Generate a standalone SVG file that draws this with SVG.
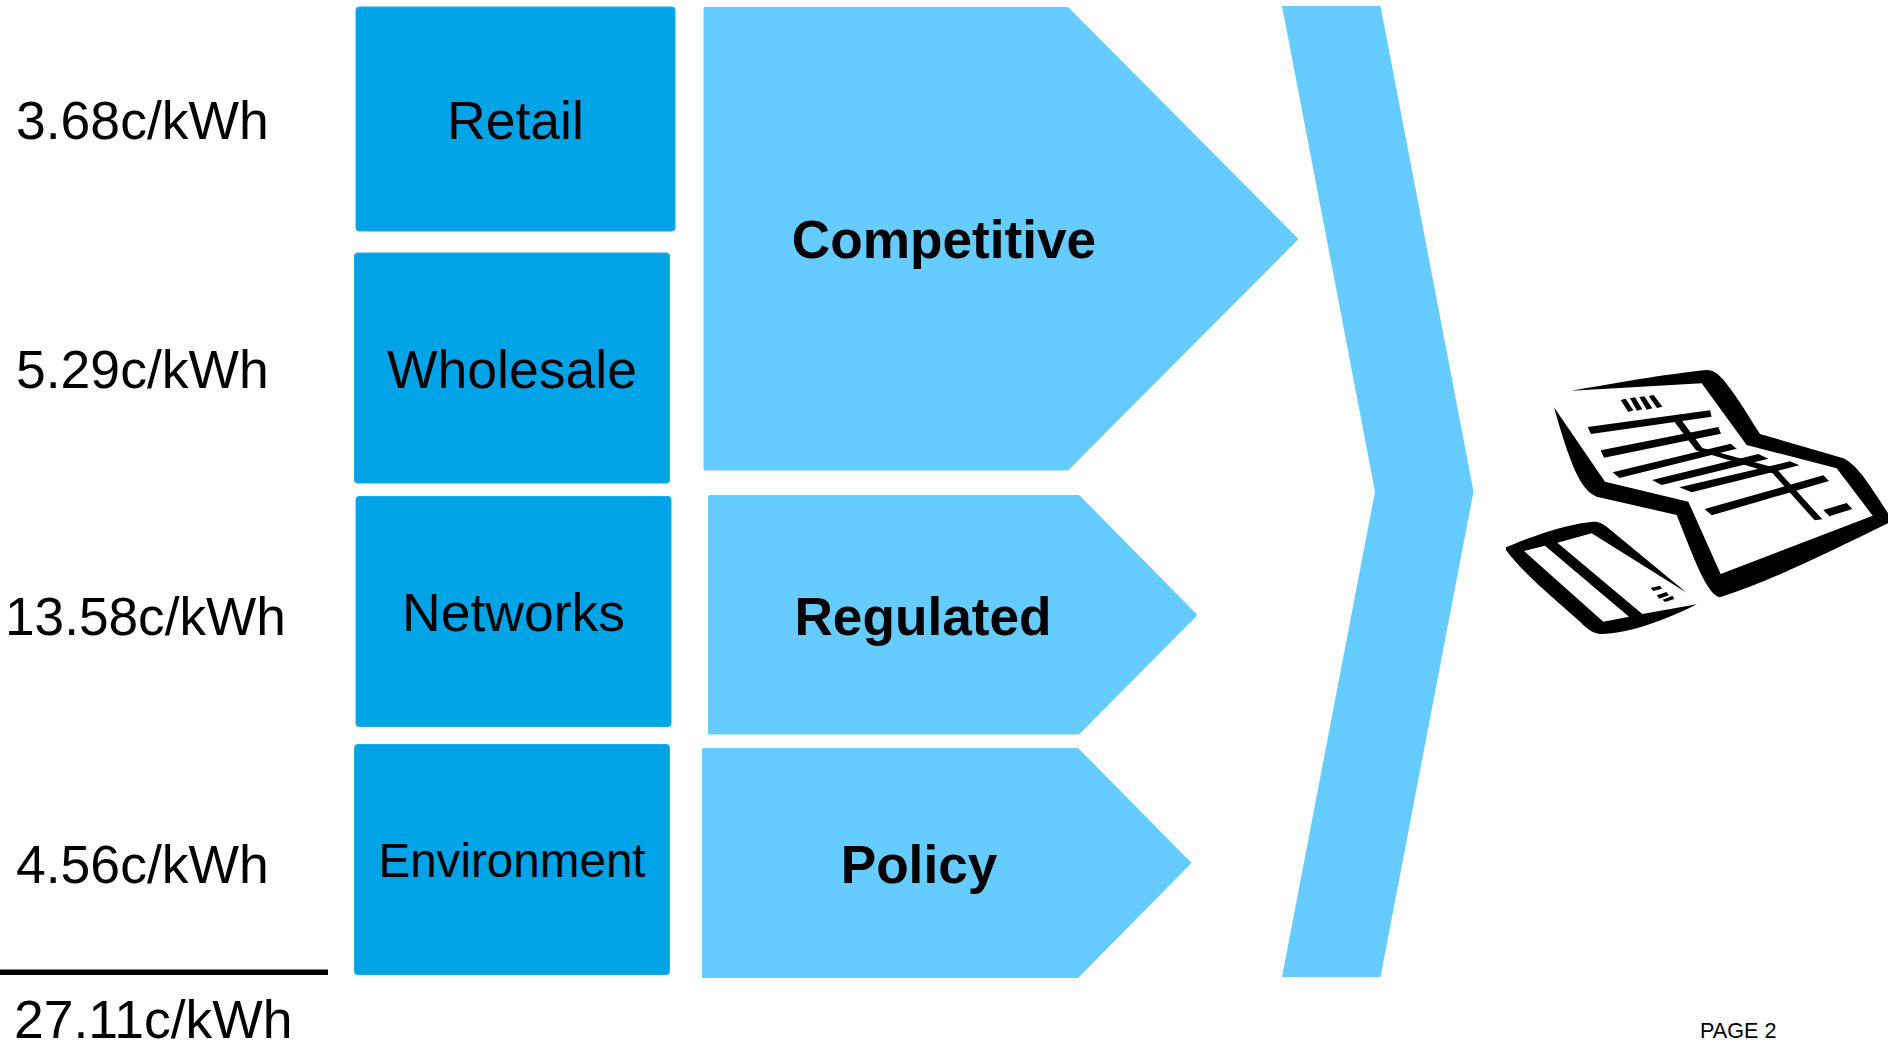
<svg xmlns="http://www.w3.org/2000/svg" width="1888" height="1042" viewBox="0 0 1888 1042">
<style>
text{font-family:"Liberation Sans",Arial,sans-serif;fill:#000}
.v{font-size:53.5px}
.c{text-anchor:middle}
.b{font-weight:bold;font-size:53.2px;text-anchor:middle}
.dark{fill:#00A3E6;stroke:#1AADEA;stroke-width:1}
.light{fill:#66CCFF;stroke:#66CCFF;stroke-width:3;stroke-linejoin:round}
.sharp{fill:#66CCFF}
</style>
<rect width="1888" height="1042" fill="#fff"/>
<g id="value-retail"><text class="v" x="16" y="139">3.68c/kWh</text></g>
<g id="value-wholesale"><text class="v" x="16" y="388">5.29c/kWh</text></g>
<g id="value-networks"><text class="v" x="5" y="635" style="font-size:53.2px">13.58c/kWh</text></g>
<g id="value-environment"><text class="v" x="16" y="883">4.56c/kWh</text></g>
<g id="total-rule"><rect x="0" y="969.5" width="328" height="5.5" fill="#000"/></g>
<g id="value-total"><text class="v" x="14" y="1038">27.11c/kWh</text></g>
<g id="retail"><rect class="dark" x="356" y="7" width="319" height="224" rx="3"/><text class="v c" x="515.500" y="139">Retail</text></g>
<g id="wholesale"><rect class="dark" x="354.500" y="253" width="315" height="230" rx="3"/><text class="v c" x="512" y="388">Wholesale</text></g>
<g id="networks"><rect class="dark" x="356" y="496.500" width="315" height="230" rx="3"/><text class="v c" x="513.500" y="631">Networks</text></g>
<g id="environment"><rect class="dark" x="354.500" y="744.500" width="315" height="230" rx="3"/><text class="c" style="font-size:47.6px" x="512" y="877">Environment</text></g>
<g id="competitive"><path class="light" d="M705 8.500H1067.500L1296.500 239 1067.500 469H705Z"/><text class="b" x="944" y="258">Competitive</text></g>
<g id="regulated"><path class="light" d="M709.500 496.500H1078.500L1195.500 615 1078.500 733H709.500Z"/><text class="b" x="923" y="635">Regulated</text></g>
<g id="policy"><path class="light" d="M703.500 749.500H1077.500L1189.500 863 1077.500 976.500H703.500Z"/><text class="b" x="919" y="883">Policy</text></g>
<g id="total-chevron"><path class="sharp" d="M1282 6H1380.500L1473.500 491.500 1380.500 977H1282L1375 491.500Z"/></g>
<g id="bill-icon" transform="translate(1480 350) scale(.33333)" fill="#000">
<path d="M275 122C400 100 560 72 680 60C705 60 720 78 735 95C775 145 810 205 840 252L1090 325C1130 345 1160 390 1224 490V520C1060 600 880 690 720 742C680 735 640 620 590 495L350 440C300 420 270 340 222 172L375 395 625 455 722 672 1178 497 1070 355 800 285 665 100Z"/>
<path d="M422 150 437 146 460 181 445 186ZM450 145 465 142 487 178 471 182ZM478 141 493 139 517 175 500 179ZM506 138 521 135 547 170 531 174Z"/>
<path d="M323 231 690 181 695 200 333 252Z"/>
<path d="M362 301 715 231 723 251 372 323Z"/>
<path d="M398 367 752 281 770 296 418 384Z"/>
<path d="M516 390 835 312 865 326 545 405Z"/>
<path d="M598 412 930 334 958 346 635 427Z"/>
<path d="M674 477 1030 376 1047 393 695 496Z"/>
<path d="M1030 480 1100 459 1117 477 1048 499Z"/>
<path d="M583 215 606 212 667 294 887 354 1027 508 1004 511 878 370 648 301Z"/>
<path fill-rule="evenodd" d="M78 592C150 560 280 515 350 515Q365 518 380 530L620 728 335 550 232 578 487 792 650 763C560 810 440 852 365 852C340 852 320 835 300 815C220 745 120 660 78 600ZM132 603 195 587 447 800 370 815Z"/>
<path d="M512 714 540 707 546 716 520 723ZM530 736 560 726 566 736 538 746ZM548 749 578 737 583 747 555 756Z"/>
</g>
<g id="page-number"><text x="1700" y="1038" style="font-size:21.6px">PAGE 2</text></g>
</svg>
